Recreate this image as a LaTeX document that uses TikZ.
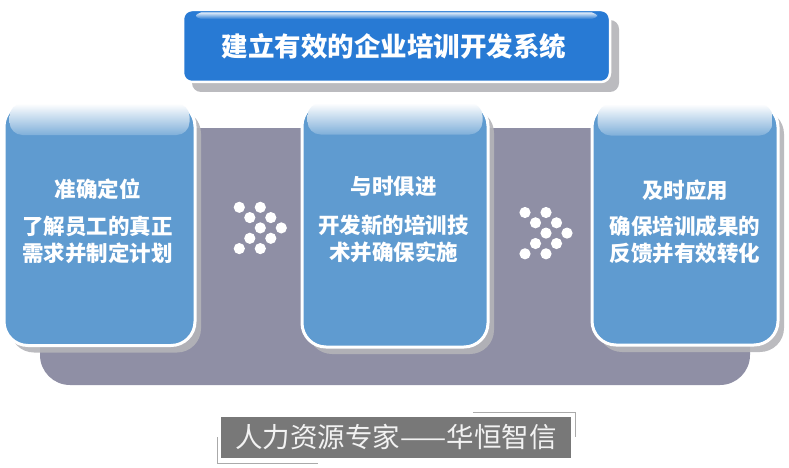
\documentclass[tikz,border=0pt]{standalone}
\usepackage{fontspec}
\setmainfont{Noto Sans CJK SC}
\usetikzlibrary{shadows}
\definecolor{boxblue}{RGB}{95,155,208}
\definecolor{titleblue}{RGB}{40,122,212}
\definecolor{bandgray}{RGB}{143,143,165}
\definecolor{shadowgray}{RGB}{180,180,184}
\definecolor{footgray}{RGB}{120,120,120}
\definecolor{foottext}{RGB}{242,242,242}
\definecolor{decogray}{RGB}{170,170,170}
\begin{document}
\begin{tikzpicture}[x=1pt,y=-1pt,
  panel/.style={rectangle, draw=white, line width=3pt, fill=boxblue,
    rounded corners=24pt, inner sep=0pt,
    drop shadow={shadow xshift=6pt, shadow yshift=-7pt, fill=shadowgray, opacity=0.9}},
  titlebox/.style={rectangle, draw=white, line width=2.5pt, fill=titleblue,
    rounded corners=9pt, inner sep=0pt,
    drop shadow={shadow xshift=9pt, shadow yshift=-10pt, fill=shadowgray, opacity=0.9}},
  gloss/.style={rounded corners=13pt, shading=axis, top color=white, bottom color=boxblue!80!white},
  head/.style={text=white, font=\bfseries\fontsize{21.5}{27}\selectfont, inner sep=0pt},
  body/.style={text=white, font=\bfseries\fontsize{21.5}{27}\selectfont, align=center, inner sep=0pt},
  dot/.style={fill=white}
]
\useasboundingbox (0,0) rectangle (789,468);

% gray band
\fill[bandgray, rounded corners=30pt] (40,128) rectangle (750,385);

% title
\node[titlebox, minimum width=427pt, minimum height=72pt] (title) at (396.5,46) {};
\shade[rounded corners=5pt, top color=white!85!titleblue, bottom color=titleblue]
  (196,12.5) rectangle (597,19);
\node[text=white, font=\bfseries\fontsize{26.5}{30}\selectfont, inner sep=0pt] (titletext) at (394,46.5) {建立有效的企业培训开发系统};

% panels
\node[panel, minimum width=191pt, minimum height=243pt] (p1) at (99.5,224) {};
\node[panel, minimum width=186pt, minimum height=245pt] (p2) at (395,224.5) {};
\node[panel, minimum width=186pt, minimum height=242pt] (p3) at (685,224) {};

\shade[gloss] ([xshift=7pt,yshift=-2.5pt]p1.north west) rectangle ([xshift=-7pt,yshift=-34pt]p1.north east);
\shade[gloss] ([xshift=7pt,yshift=-2.5pt]p2.north west) rectangle ([xshift=-7pt,yshift=-34pt]p2.north east);
\shade[gloss] ([xshift=7pt,yshift=-2.5pt]p3.north west) rectangle ([xshift=-7pt,yshift=-34pt]p3.north east);

% panel texts
\node[head] (h1) at (97.5,189) {准确定位};
\node[body] (t1) at (97.5,239.5) {了解员工的真正\\需求并制定计划};
\node[head] (h2) at (393.5,186) {与时俱进};
\node[body] (t2) at (393.5,238.5) {开发新的培训技\\术并确保实施};
\node[head] (h3) at (685,190) {及时应用};
\node[body] (t3) at (685,240) {确保培训成果的\\反馈并有效转化};

% dot clusters
\foreach \dx/\dy in {0/0, 21/0, 10.5/10.3, 31.5/10.3, 21/20.6, 42/20.6, 10.5/31, 31.5/31, 0/41.3, 21/41.3}{
  \fill[dot] (239.3+\dx,207.3+\dy) circle[radius=5.6pt];
  \fill[dot] (525+\dx,212.5+\dy) circle[radius=5.6pt];
}

% footer
\draw[decogray, line width=1pt] (473,412) -- (575,412) -- (575,437);
\draw[decogray, line width=1pt] (217,437) -- (217,463) -- (318,463);
\node[rectangle, fill=footgray, minimum width=350pt, minimum height=41pt, inner sep=0pt,
  text=foottext, font=\fontsize{27.5}{30}\selectfont] (footer) at (396,437.5) {人力资源专家——华恒智信};
\end{tikzpicture}
\end{document}
